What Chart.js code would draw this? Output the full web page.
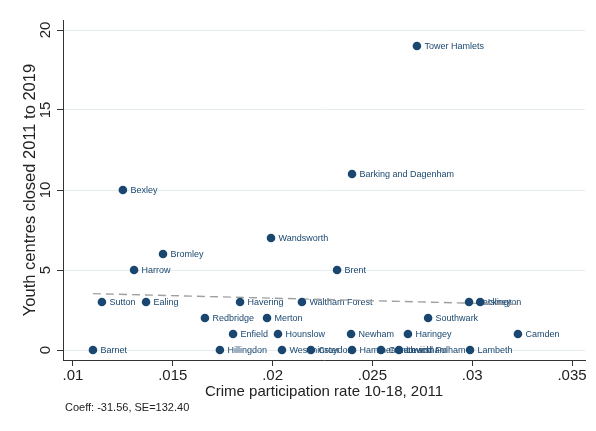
<!DOCTYPE html>
<html>
<head>
<meta charset="utf-8">
<script src="https://cdn.jsdelivr.net/npm/chart.js@4/dist/chart.umd.min.js"></script>
<style>
  html, body { margin: 0; padding: 0; background: #ffffff; }
  #wrap { width: 596px; height: 431px; }
</style>
</head>
<body>
<div id="wrap"><canvas id="chart" width="596" height="431"></canvas></div>
<script>
// London boroughs: youth crime participation vs youth centre closures
const boroughs = [
  'Tower Hamlets', 'Barking and Dagenham', 'Bexley', 'Wandsworth', 'Bromley',
  'Harrow', 'Brent', 'Sutton', 'Ealing', 'Havering', 'Waltham Forest',
  'Hackney', 'Islington', 'Redbridge', 'Merton', 'Southwark',
  'Enfield', 'Hounslow', 'Newham', 'Haringey', 'Camden',
  'Barnet', 'Hillingdon', 'Westminster', 'Croydon',
  'Hammersmith and Fulham', 'Greenwich', 'Lewisham', 'Lambeth'
];
const crimeRate = [
  0.02723, 0.02398, 0.01250, 0.01992, 0.01451,
  0.01306, 0.02323, 0.01145, 0.01366, 0.01837, 0.02147,
  0.02984, 0.03040, 0.01661, 0.01972, 0.02779,
  0.01802, 0.02027, 0.02393, 0.02678, 0.03229,
  0.01100, 0.01736, 0.02047, 0.02192,
  0.02398, 0.02543, 0.02633, 0.02989
];
const closures = [
  19, 11, 10, 7, 6,
  5, 5, 3, 3, 3, 3,
  3, 3, 2, 2, 2,
  1, 1, 1, 1, 1,
  0, 0, 0, 0,
  0, 0, 0, 0
];

const xTicks = [0.01, 0.015, 0.02, 0.025, 0.03, 0.035];
const xTickLabels = ['.01', '.015', '.02', '.025', '.03', '.035'];
const yTicks = [0, 5, 10, 15, 20];
const yTickLabels = ['0', '5', '10', '15', '20'];

// Linear fit
const fitCoeff = -31.56;
const fitSE = 132.40;
const fitIntercept = 3.87;
const fitRange = [0.0110, 0.0323];

const NAVY = '#1a476f';
const AXIS = '#333333';
const FONT = "'Liberation Sans', Arial, Helvetica, sans-serif";

const points = boroughs.map((name, i) => ({ x: crimeRate[i], y: closures[i], name }));
const fitLine = fitRange.map(x => ({ x, y: fitIntercept + fitCoeff * x }));

// marker labels to the right of each point, drawn beneath the markers
const pointLabels = {
  id: 'pointLabels',
  beforeDatasetsDraw(chart) {
    const meta = chart.getDatasetMeta(1);
    const ctx = chart.ctx;
    ctx.save();
    ctx.font = "9px " + FONT;
    ctx.fillStyle = NAVY;
    ctx.textAlign = 'left';
    ctx.textBaseline = 'middle';
    meta.data.forEach((el, i) => {
      ctx.fillText(points[i].name, el.x + 7.5, el.y + 0.5);
    });
    ctx.restore();
  }
};

// coefficient note under the plot
const noteText = {
  id: 'noteText',
  afterDraw(chart) {
    const ctx = chart.ctx;
    ctx.save();
    ctx.font = "11px " + FONT;
    ctx.fillStyle = '#222222';
    ctx.textAlign = 'left';
    ctx.textBaseline = 'middle';
    ctx.fillText('Coeff: ' + fitCoeff.toFixed(2) + ', SE=' + fitSE.toFixed(2), chart.chartArea.left + 2, 408);
    ctx.restore();
  }
};

new Chart(document.getElementById('chart'), {
  type: 'scatter',
  data: {
    datasets: [
      {
        type: 'line',
        data: fitLine,
        borderColor: '#a0a0a0',
        borderWidth: 1.4,
        borderDash: [8, 5],
        pointRadius: 0,
        fill: false,
        order: 2
      },
      {
        data: points,
        backgroundColor: NAVY,
        borderColor: NAVY,
        borderWidth: 0,
        pointRadius: 4.3,
        order: 1
      }
    ]
  },
  options: {
    responsive: false,
    devicePixelRatio: 1,
    animation: false,
    layout: { padding: { top: 20, right: 11, left: 0, bottom: 29.6 } },
    plugins: {
      legend: { display: false },
      tooltip: { enabled: false }
    },
    scales: {
      x: {
        type: 'linear',
        min: 0.0095,
        max: 0.03565,
        afterBuildTicks: s => { s.ticks = xTicks.map(v => ({ value: v })); },
        afterFit: s => { s.height = 41.4; },
        ticks: {
          callback: (v, i) => xTickLabels[i],
          font: { family: FONT, size: 15 },
          color: '#222222',
          padding: 1,
          maxRotation: 0,
          autoSkip: false
        },
        grid: { drawOnChartArea: false, drawTicks: true, tickLength: 6, tickColor: AXIS },
        border: { color: AXIS, width: 1 },
        title: {
          display: true,
          text: 'Crime participation rate 10-18, 2011',
          font: { family: FONT, size: 15 },
          color: '#222222',
          padding: { top: 0, bottom: 1 }
        }
      },
      y: {
        type: 'linear',
        min: -0.625,
        max: 20.625,
        afterBuildTicks: s => { s.ticks = yTicks.map(v => ({ value: v })); },
        afterFit: s => { s.width = 63; },
        ticks: {
          callback: (v, i) => yTickLabels[i],
          font: { family: FONT, size: 15 },
          color: '#222222',
          minRotation: 90,
          maxRotation: 90,
          crossAlign: 'center',
          padding: 2.5,
          autoSkip: false
        },
        grid: { color: '#e6edf0', lineWidth: 1, drawTicks: true, tickLength: 6, tickColor: AXIS },
        border: { color: AXIS, width: 1 },
        title: {
          display: true,
          text: 'Youth centres closed 2011 to 2019',
          font: { family: FONT, size: 16.5 },
          color: '#222222',
          padding: { top: 21, bottom: 0 }
        }
      }
    }
  },
  plugins: [pointLabels, noteText]
});
</script>
</body>
</html>
